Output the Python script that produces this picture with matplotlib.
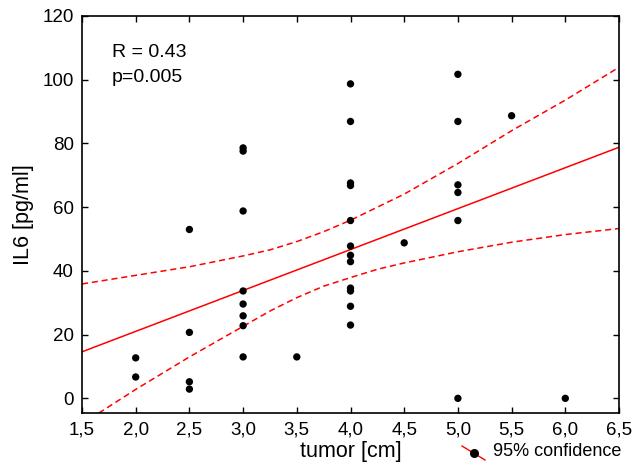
import matplotlib.pyplot as plt
from matplotlib.lines import Line2D

plt.rcParams['font.family'] = ['Liberation Sans', 'DejaVu Sans']

# tumour size [cm] and IL6 [pg/ml]
tumor = [2.0, 2.0,
         2.5, 2.5, 2.5, 2.5,
         3.0, 3.0, 3.0, 3.0, 3.0, 3.0, 3.0, 3.0,
         3.5,
         4.0, 4.0, 4.0, 4.0, 4.0, 4.0, 4.0, 4.0, 4.0, 4.0, 4.0, 4.0,
         4.5,
         5.0, 5.0, 5.0, 5.0, 5.0, 5.0,
         5.5,
         6.0]
il6 = [12.7, 6.7,
       53.0, 20.7, 5.2, 2.9,
       78.6, 77.6, 58.8, 33.7, 29.6, 25.9, 22.8, 13.0,
       13.0,
       98.7, 86.9, 67.6, 66.8, 55.8, 47.8, 44.9, 42.9, 34.6, 33.7, 28.9, 23.0,
       48.8,
       101.7, 86.9, 67.0, 64.6, 55.8, 0.0,
       88.7,
       0.0]

# regression line and 95% confidence band as drawn in the reference
fit_x = [1.5, 6.5]
fit_y = [14.6, 78.8]
band_x = [1.5, 2.0, 2.5, 3.0, 3.25, 3.5, 3.75, 4.0, 4.25, 4.5, 5.0, 5.5, 6.0, 6.5]
band_upper = [35.9, 38.6, 41.3, 44.7, 46.6, 49.2, 52.3, 55.9, 60.0, 64.1, 73.7, 84.0, 93.6, 103.9]
band_lower = [-8.0, 2.8, 13.0, 22.6, 27.4, 31.6, 35.2, 37.9, 40.5, 42.5, 46.0, 49.0, 51.4, 53.3]

xtick_vals = [1.5, 2.0, 2.5, 3.0, 3.5, 4.0, 4.5, 5.0, 5.5, 6.0, 6.5]
xtick_labels = ['1,5', '2,0', '2,5', '3,0', '3,5', '4,0', '4,5', '5,0', '5,5', '6,0', '6,5']
ytick_vals = [0, 20, 40, 60, 80, 100, 120]

fig = plt.figure(figsize=(6.44, 4.71), dpi=100)
ax = fig.add_axes([82 / 644, 1 - 413 / 471, (619 - 82) / 644, (413 - 16) / 471])

ax.plot(fit_x, fit_y, color='red', lw=1.1)
ax.plot(band_x, band_upper, color='red', lw=1.1, ls=(0, (4, 2.5)))
ax.plot(band_x, band_lower, color='red', lw=1.1, ls=(0, (4, 2.5)))
ax.scatter(tumor, il6, s=28, color='black', zorder=3, edgecolors='none')

ax.set_xlim(1.5, 6.5)
ax.set_ylim(-4.6, 120)
ax.set_xticks(xtick_vals)
ax.set_xticklabels(xtick_labels)
ax.set_yticks(ytick_vals)
ax.tick_params(direction='in', top=True, right=True, labelsize=13.5, length=4, width=1)
ax.tick_params(axis='x', pad=6)
ax.tick_params(axis='y', pad=6)
for sp in ax.spines.values():
    sp.set_linewidth(1.2)

ax.set_xlabel('tumor [cm]', fontsize=15.5, labelpad=2)
ax.set_ylabel('IL6 [pg/ml]', fontsize=15.5, labelpad=6)

ax.text(0.055, 0.8975, 'R = 0.43', transform=ax.transAxes, fontsize=14,
        va='baseline', ha='left')
ax.text(0.055, 0.8345, 'p=0.005', transform=ax.transAxes, fontsize=14,
        va='baseline', ha='left')

# legend below the axes, bottom right
fig.add_artist(Line2D([462 / 644, 485 / 644], [1 - 446 / 471, 1 - 460 / 471],
                      color='red', lw=1))
fig.add_artist(Line2D([474 / 644], [1 - 453 / 471], marker='o', color='black',
                      markersize=5.5, lw=0))
fig.text(493 / 644, 1 - 452 / 471, '95% confidence', fontsize=13, va='center', ha='left')

fig.savefig('out.png', dpi=100)
